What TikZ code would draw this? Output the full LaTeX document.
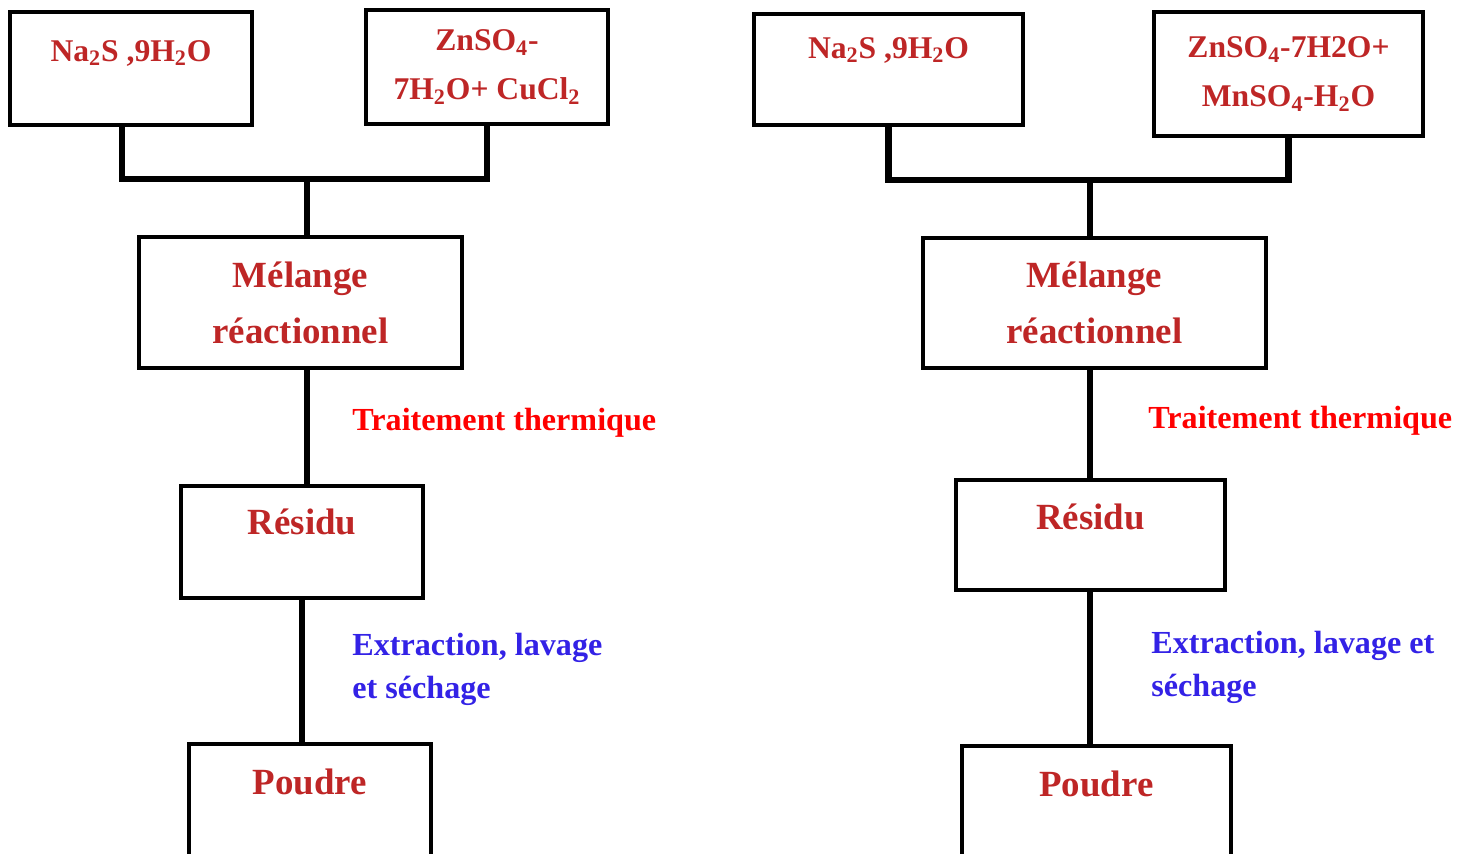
\documentclass[tikz,border=0pt]{standalone}
\usepackage{fontspec}
\setmainfont{Liberation Serif}
\definecolor{chemred}{RGB}{190,38,38}
\definecolor{stepblue}{RGB}{51,34,230}
\begin{document}
\begin{tikzpicture}[x=0.02cm, y=-0.02cm,
  box/.style={draw, line width=2.3pt, inner sep=0pt, anchor=north west, align=center, text=chemred},
  chem/.style={font=\fontsize{18}{28}\selectfont\bfseries},
  big/.style={font=\fontsize{21}{32}\selectfont\bfseries},
  link/.style={line width=3.5pt},
  redstep/.style={anchor=base west, inner sep=0pt, text=red, font=\fontsize{18.3}{24}\selectfont\bfseries},
  bluestep/.style={anchor=base west, inner sep=0pt, align=left, text=stepblue, font=\fontsize{18.3}{24}\selectfont\bfseries}]
\useasboundingbox (0,0) rectangle (1467,853);

% left chain
\node[box, chem, minimum width=4.84cm, text height=0.98cm, text depth=1.28cm] (naL) at (8,10) {Na\textsubscript{2}S ,9H\textsubscript{2}O};
\node[box, chem, minimum width=4.84cm, minimum height=2.28cm] (znL) at (364,8) {ZnSO\textsubscript{4}-\\7H\textsubscript{2}O+ CuCl\textsubscript{2}};
\node[box, big, minimum width=6.46cm, minimum height=2.62cm] (melL) at (137,235) {Mélange\\réactionnel};
\node[box, big, minimum width=4.84cm, text height=0.96cm, text depth=1.28cm] (resL) at (179,484) {Résidu};
\node[box, big, minimum width=4.84cm, text height=1.0cm, text depth=1.8cm] (pouL) at (187,742) {Poudre};

\coordinate (jL) at (307,179);
\draw[link] ([xshift=-0.18cm]naL.south) |- (jL) -| (znL.south);
\draw[link] (jL) -- (jL |- melL.north);
\draw[link] (melL.south -| jL) -- (resL.north -| jL);
\draw[link] (resL.south -| 302,0) -- (pouL.north -| 302,0);

\node[redstep] (heatL) at (352,430) {Traitement thermique};
\node[bluestep] (washL) at (352,698) {Extraction, lavage\\et séchage};

% right chain
\node[box, chem, minimum width=5.38cm, text height=0.88cm, text depth=1.34cm] (naR) at (752,12) {Na\textsubscript{2}S ,9H\textsubscript{2}O};
\node[box, chem, minimum width=5.38cm, minimum height=2.48cm] (znR) at (1152,10) {ZnSO\textsubscript{4}-7H2O+\\MnSO\textsubscript{4}-H\textsubscript{2}O};
\node[box, big, minimum width=6.86cm, minimum height=2.6cm] (melR) at (921,236) {Mélange\\réactionnel};
\node[box, big, minimum width=5.38cm, text height=0.98cm, text depth=1.22cm] (resR) at (954,478) {Résidu};
\node[box, big, minimum width=5.38cm, text height=1.0cm, text depth=1.8cm] (pouR) at (960,744) {Poudre};

\coordinate (jR) at (1090,180);
\draw[link] (naR.south) |- (jR) -| (znR.south);
\draw[link] (jR) -- (jR |- melR.north);
\draw[link] (melR.south -| jR) -- (resR.north -| jR);
\draw[link] (resR.south -| jR) -- (pouR.north -| jR);

\node[redstep] (heatR) at (1148,428) {Traitement thermique};
\node[bluestep] (washR) at (1151,696) {Extraction, lavage et\\séchage};

\end{tikzpicture}
\end{document}
